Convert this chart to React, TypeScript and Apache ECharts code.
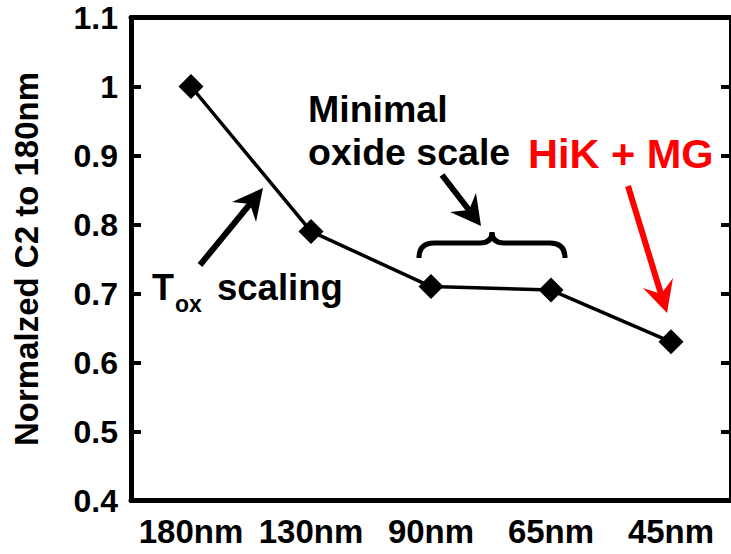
import React, { useEffect, useRef } from "react";
import * as echarts from "echarts";

const nodes = ["180nm", "130nm", "90nm", "65nm", "45nm"];
const c2Values = [1.0, 0.79, 0.71, 0.705, 0.63];
const yMin = 0.4;
const yMax = 1.1;
const yStep = 0.1;

const FONT = '"Liberation Sans", Arial, Helvetica, sans-serif';

// curly brace over the 90nm..65nm pair
echarts.graphic.registerShape(
  "brace",
  echarts.graphic.extendPath(
    "M419 258 Q419 243 434 243 L480 243 Q492 243 492 232 Q492 243 504 243 L550 243 Q565 243 565 258",
    {}
  )
);

function arrow(
  tail: number[],
  notch: number[],
  tip: number[],
  barbA: number[],
  barbB: number[],
  color: string,
  width: number
) {
  return [
    {
      type: "polyline",
      shape: { points: [tail, notch] },
      style: { stroke: color, lineWidth: width, fill: null },
    },
    {
      type: "polygon",
      shape: { points: [tip, barbA, notch, barbB] },
      style: { fill: color, stroke: null },
    },
  ];
}

export default function App() {
  const ref = useRef<HTMLDivElement>(null);

  useEffect(() => {
    document.body.style.margin = "0";
    const chart = echarts.init(ref.current!, null, { renderer: "svg" });

    const axisLine = { lineStyle: { color: "#000", width: 5 } };
    const tick = { inside: true, length: 10, lineStyle: { color: "#000", width: 4 } };

    chart.setOption({
      animation: false,
      backgroundColor: "#fff",
      grid: { left: 131, top: 17.5, width: 602, height: 483 },
      xAxis: [
        {
          type: "category",
          data: nodes,
          position: "bottom",
          boundaryGap: true,
          axisLine,
          axisTick: tick,
          axisLabel: {
            interval: 0,
            margin: 14,
            color: "#000",
            fontFamily: FONT,
            fontWeight: "bold",
            fontSize: 33,
          },
        },
        {
          type: "category",
          data: nodes,
          position: "top",
          boundaryGap: true,
          axisLine,
          axisTick: tick,
          axisLabel: { show: false },
        },
      ],
      yAxis: [
        {
          type: "value",
          min: yMin,
          max: yMax,
          interval: yStep,
          position: "left",
          splitLine: { show: false },
          axisLine: { show: true, ...axisLine },
          axisTick: { show: true, ...tick },
          axisLabel: {
            margin: 13,
            color: "#000",
            fontFamily: FONT,
            fontWeight: "bold",
            fontSize: 32,
          },
          name: "Normalzed C2 to 180nm",
          nameLocation: "middle",
          nameRotate: 90,
          nameGap: 88,
          nameTextStyle: {
            color: "#000",
            fontFamily: FONT,
            fontWeight: "bold",
            fontSize: 33,
          },
        },
        {
          type: "value",
          min: yMin,
          max: yMax,
          interval: yStep,
          position: "right",
          splitLine: { show: false },
          axisLine: { show: true, ...axisLine },
          axisTick: { show: true, ...tick },
          axisLabel: { show: false },
        },
      ],
      series: [
        {
          type: "line",
          data: c2Values,
          xAxisIndex: 0,
          yAxisIndex: 0,
          symbol: "diamond",
          symbolSize: 25,
          lineStyle: { color: "#000", width: 3.5 },
          itemStyle: { color: "#000" },
        },
      ],
      graphic: [
        { type: "text", x: 152, y: 287, style: { text: "T", font: `bold 36px ${FONT}`, fill: "#000", verticalAlign: "middle" } },
        { type: "text", x: 175, y: 304, style: { text: "ox", font: `bold 23px ${FONT}`, fill: "#000", verticalAlign: "middle" } },
        { type: "text", x: 217, y: 287, style: { text: "scaling", font: `bold 36.5px ${FONT}`, fill: "#000", verticalAlign: "middle" } },
        { type: "text", x: 308, y: 109, style: { text: "Minimal", font: `bold 37.5px ${FONT}`, fill: "#000", verticalAlign: "middle" } },
        { type: "text", x: 308, y: 152, style: { text: "oxide scale", font: `bold 37.5px ${FONT}`, fill: "#000", verticalAlign: "middle" } },
        { type: "text", x: 528, y: 153, style: { text: "HiK + MG", font: `bold 41.5px ${FONT}`, fill: "#ff0000", verticalAlign: "middle" } },
        ...arrow([200, 265], [250, 204], [263, 188], [232, 202], [256, 222], "#000", 6),
        ...arrow([442, 175], [469, 210], [481, 226], [450, 212], [476, 193], "#000", 6),
        ...arrow([628, 186], [661, 294], [667, 313], [643, 288], [673, 278], "#ff0000", 6),
        { type: "brace", x: 0, y: 0, style: { stroke: "#000", lineWidth: 5, fill: "none" } },
      ],
    });

    return () => chart.dispose();
  }, []);

  return <div ref={ref} style={{ width: 731, height: 554 }} />;
}
